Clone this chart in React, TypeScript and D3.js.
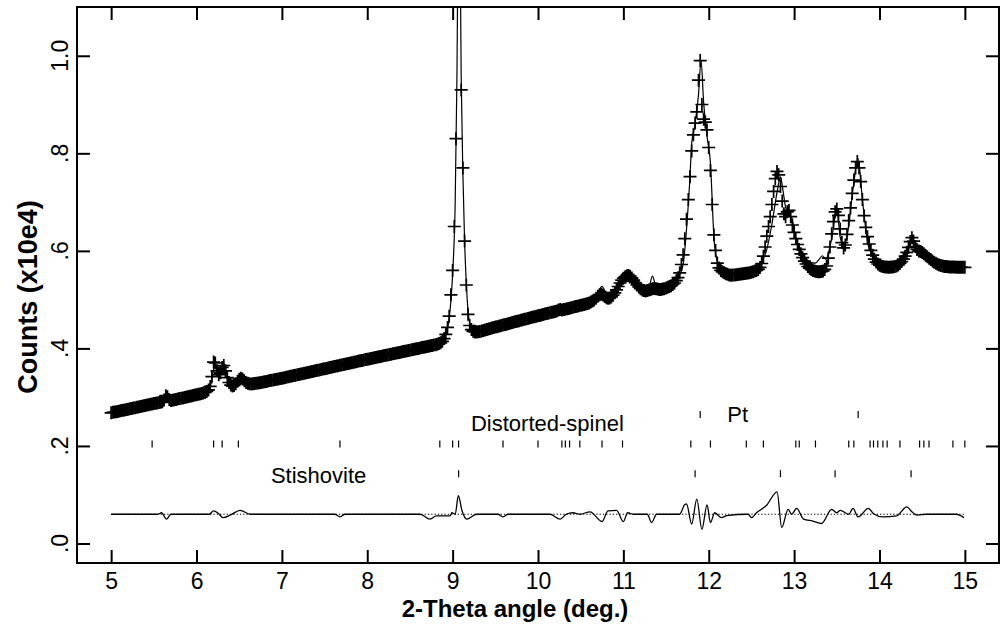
import { useRef, useEffect } from 'react'
import * as d3 from 'd3'

// observed counts, 2-theta 5.00 .. 15.00 deg, one reading every 0.02 deg
const obsStart = 5.0
const obsStep = 0.02
const obsCounts = [
	// 5.00
	2680, 2689, 2694, 2703, 2709, 2718, 2724, 2733, 2739, 2748,
	2754, 2763, 2769, 2778, 2784, 2793, 2799, 2808, 2814, 2823,
	2829, 2838, 2844, 2853, 2859, 2868, 2874, 2883, 2888, 2895,
	2905, 2945, 3030, 3010, 2950, 2930, 2938, 2946, 2954, 2962,
	2970, 2978, 2986, 2994, 3002, 3010, 3018, 3026, 3034, 3042,
	// 6.00
	3050, 3058, 3066, 3075, 3085, 3098, 3118, 3150, 3220, 3420,
	3720, 3700, 3540, 3460, 3500, 3610, 3650, 3540, 3400, 3300,
	3248, 3228, 3240, 3275, 3325, 3368, 3390, 3372, 3335, 3302,
	3286, 3276, 3273, 3275, 3279, 3284, 3290, 3297, 3303, 3310,
	3318, 3324, 3331, 3339, 3345, 3352, 3360, 3366, 3373, 3381,
	// 7.00
	3388, 3396, 3403, 3411, 3419, 3427, 3434, 3443, 3450, 3458,
	3466, 3473, 3482, 3489, 3497, 3505, 3512, 3521, 3528, 3536,
	3544, 3551, 3560, 3567, 3575, 3583, 3590, 3599, 3606, 3614,
	3622, 3629, 3638, 3645, 3653, 3661, 3668, 3677, 3684, 3692,
	3700, 3707, 3716, 3723, 3731, 3739, 3746, 3755, 3762, 3770,
	// 8.00
	3778, 3785, 3793, 3800, 3808, 3815, 3822, 3830, 3837, 3845,
	3852, 3860, 3867, 3874, 3882, 3889, 3897, 3904, 3912, 3919,
	3926, 3934, 3941, 3949, 3956, 3964, 3971, 3978, 3986, 3993,
	4001, 4008, 4016, 4023, 4030, 4038, 4045, 4053, 4060, 4068,
	4076, 4085, 4098, 4115, 4145, 4200, 4290, 4430, 4660, 5100,
	// 9.00
	5600, 6500, 8300, 12000, 13500, 9300, 7700, 6200, 5300, 4700,
	4470, 4385, 4350, 4338, 4336, 4340, 4349, 4358, 4368, 4378,
	4388, 4397, 4406, 4416, 4426, 4436, 4445, 4455, 4465, 4474,
	4483, 4492, 4502, 4512, 4521, 4530, 4540, 4549, 4558, 4568,
	4577, 4587, 4596, 4605, 4614, 4623, 4632, 4641, 4650, 4659,
	// 10.00
	4668, 4677, 4686, 4695, 4704, 4713, 4722, 4731, 4740, 4749,
	4758, 4768, 4785, 4795, 4790, 4795, 4803, 4812, 4821, 4830,
	4839, 4848, 4857, 4866, 4875, 4884, 4893, 4902, 4912, 4922,
	4934, 4950, 4970, 4995, 5030, 5070, 5100, 5110, 5095, 5065,
	5040, 5030, 5035, 5055, 5090, 5140, 5200, 5270, 5340, 5400,
	// 11.00
	5440, 5470, 5490, 5495, 5480, 5445, 5400, 5350, 5300, 5260,
	5225, 5200, 5185, 5180, 5185, 5195, 5210, 5225, 5230, 5225,
	5215, 5210, 5210, 5215, 5225, 5238, 5252, 5268, 5285, 5310,
	5340, 5390, 5450, 5550, 5720, 5920, 6250, 6650, 7050, 7520,
	8050, 8380, 8620, 8850, 9500, 9900, 9000, 8700, 8640, 8480,
	// 12.00
	8120, 7650, 6950, 6330, 6010, 5750, 5650, 5600, 5570, 5550,
	5530, 5520, 5505, 5500, 5503, 5508, 5512, 5518, 5522, 5527,
	5532, 5536, 5540, 5545, 5550, 5560, 5570, 5585, 5600, 5620,
	5660, 5740, 5890, 6080, 6300, 6500, 6700, 6950, 7220, 7480,
	7630, 7560, 7320, 7020, 6760, 6700, 6800, 6830, 6700, 6530,
	// 13.00
	6380, 6250, 6130, 6030, 5940, 5860, 5790, 5730, 5680, 5645,
	5620, 5600, 5585, 5575, 5570, 5570, 5575, 5590, 5620, 5690,
	5850, 6080, 6350, 6600, 6800, 6860, 6730, 6450, 6170, 6060,
	6120, 6340, 6620, 6880, 7180, 7450, 7700, 7830, 7700, 7420,
	7050, 6720, 6480, 6290, 6140, 6010, 5910, 5830, 5770, 5730,
	// 14.00
	5705, 5690, 5680, 5672, 5668, 5665, 5665, 5667, 5670, 5678,
	5690, 5710, 5740, 5780, 5830, 5890, 5970, 6070, 6190, 6270,
	6200, 6090, 6030, 6000, 5985, 5965, 5940, 5910, 5880, 5850,
	5820, 5790, 5765, 5745, 5725, 5710, 5700, 5690, 5682, 5677,
	5673, 5670, 5668, 5667, 5666, 5665, 5665, 5664, 5664, 5663,
	// 15.00
	5663,
]

// calculated profile [2-theta, counts x10e4]
const calcProfile = [
	[5.0, 0.268], [5.6, 0.29], [5.62, 0.293], [5.64, 0.301], [5.66, 0.303], [5.68, 0.296],
	[5.7, 0.293], [6.0, 0.305], [6.1, 0.31], [6.14, 0.316], [6.16, 0.322], [6.18, 0.336],
	[6.2, 0.357], [6.22, 0.368], [6.24, 0.356], [6.26, 0.348], [6.28, 0.351], [6.3, 0.362],
	[6.32, 0.37], [6.34, 0.36], [6.36, 0.343], [6.4, 0.325], [6.42, 0.323], [6.46, 0.325],
	[6.5, 0.333], [6.52, 0.333], [6.55, 0.334], [6.6, 0.329], [6.66, 0.327], [7.0, 0.339],
	[7.64, 0.364], [7.69, 0.372], [7.74, 0.367], [8.0, 0.378], [8.5, 0.396], [8.68, 0.403],
	[8.74, 0.416], [8.8, 0.408], [8.86, 0.411], [8.92, 0.428], [8.96, 0.462], [9.0, 0.553],
	[9.03, 0.7], [9.05, 0.95], [9.075, 1.45], [9.1, 0.96], [9.12, 0.76], [9.14, 0.62],
	[9.16, 0.535], [9.18, 0.478], [9.2, 0.452], [9.24, 0.436], [9.3, 0.434], [9.56, 0.447],
	[9.6, 0.454], [9.66, 0.45], [10.0, 0.467], [10.2, 0.476], [10.26, 0.49], [10.32, 0.481],
	[10.56, 0.491], [10.64, 0.5], [10.7, 0.515], [10.75, 0.527], [10.8, 0.511], [10.86, 0.502],
	[10.92, 0.512], [11.0, 0.555], [11.06, 0.551], [11.12, 0.54], [11.2, 0.522], [11.26, 0.519],
	[11.3, 0.525], [11.34, 0.548], [11.38, 0.528], [11.44, 0.521], [11.56, 0.528], [11.64, 0.544],
	[11.7, 0.572], [11.74, 0.645], [11.78, 0.75], [11.8, 0.82], [11.84, 0.86], [11.88, 0.92],
	[11.91, 0.99], [11.94, 0.905], [11.98, 0.835], [12.02, 0.78], [12.06, 0.63], [12.1, 0.578],
	[12.14, 0.565], [12.2, 0.556], [12.3, 0.551], [12.46, 0.555], [12.5, 0.563], [12.56, 0.568],
	[12.62, 0.578], [12.68, 0.603], [12.74, 0.655], [12.8, 0.72], [12.84, 0.752], [12.86, 0.735],
	[12.9, 0.69], [12.93, 0.675], [12.97, 0.668], [13.03, 0.618], [13.08, 0.6], [13.12, 0.588],
	[13.2, 0.576], [13.25, 0.575], [13.29, 0.582], [13.33, 0.59], [13.37, 0.583], [13.44, 0.625],
	[13.5, 0.683], [13.54, 0.628], [13.58, 0.61], [13.63, 0.64], [13.69, 0.727], [13.75, 0.789],
	[13.8, 0.705], [13.87, 0.61], [13.93, 0.59], [14.04, 0.573], [14.2, 0.573], [14.32, 0.59],
	[14.38, 0.624], [14.43, 0.606], [14.55, 0.589], [14.7, 0.57], [15.0, 0.566],
]

// obs - calc, plotted about a fixed offset
const diffOffset = 0.06
const diffProfile = [
	[5.0, 0], [5.55, 0], [5.59, 0.003], [5.65, -0.01], [5.7, 0], [6.15, 0], [6.2, 0.007],
	[6.26, 0.001], [6.31, -0.007], [6.4, -0.0015], [6.51, 0.008], [6.63, 0], [7.62, 0],
	[7.68, -0.0055], [7.74, 0], [8.62, 0], [8.735, -0.01], [8.81, -0.0035], [8.97, -0.0035],
	[8.99, 0.003], [9.03, 0], [9.067, 0.038], [9.11, 0.007], [9.165, -0.01], [9.28, 0],
	[9.53, 0], [9.59, -0.0055], [9.65, 0], [10.14, 0], [10.26, -0.01], [10.33, 0],
	[10.41, 0.003], [10.49, 0], [10.61, 0.005], [10.75, -0.015], [10.82, 0.007], [10.92, 0.008],
	[11.0, -0.015], [11.05, 0.003], [11.12, 0], [11.28, 0], [11.33, -0.017], [11.39, 0],
	[11.66, 0], [11.72, 0.02], [11.74, 0.021], [11.8, -0.02], [11.86, 0.031], [11.92, -0.031],
	[11.98, 0.019], [12.02, -0.017], [12.07, 0.003], [12.15, -0.007], [12.21, -0.003],
	[12.46, 0], [12.5, -0.007], [12.56, 0.003], [12.68, 0.019], [12.8, 0.046], [12.855, -0.027],
	[12.93, 0.01], [12.97, 0], [13.03, 0.012], [13.11, -0.01], [13.22, -0.014], [13.32, -0.019],
	[13.44, 0.01], [13.5, 0.003], [13.54, 0.008], [13.64, 0], [13.69, 0.012], [13.75, -0.0055],
	[13.87, 0.012], [13.93, 0.001], [14.04, -0.0055], [14.2, -0.0035], [14.32, 0.015],
	[14.38, 0.005], [14.44, -0.002], [14.55, 0], [14.9, 0], [14.99, -0.007],
]

// reflection positions (2-theta) of each phase
const spinelPeaks = [
	5.48, 6.2, 6.3, 6.49, 7.68, 8.85, 9.0, 9.07, 9.59, 10.0, 10.28, 10.32, 10.37, 10.49,
	10.75, 10.99, 11.79, 12.02, 12.44, 12.64, 13.02, 13.06, 13.25, 13.64, 13.7, 13.89,
	13.93, 13.98, 14.04, 14.09, 14.24, 14.47, 14.52, 14.58, 14.86, 15.0,
]
const ptPeaks = [11.9, 13.75]
const stishovitePeaks = [9.07, 11.84, 12.84, 13.48, 14.37]

const xTicks = [5, 6, 7, 8, 9, 10, 11, 12, 13, 14, 15]
const yTicks = [0, 0.2, 0.4, 0.6, 0.8, 1.0]
const yTickLabels = ['.0', '.2', '.4', '.6', '.8', '1.0']

const FONT = '"Liberation Sans", Arial, Helvetica, sans-serif'

export default function App() {
	const ref = useRef<SVGSVGElement>(null)

	useEffect(() => {
		const svg = d3.select(ref.current)
		svg.selectAll('*').remove()

		const frame = { left: 77, right: 999, top: 7, bottom: 563 }
		const x = d3.scaleLinear().domain([4.6, 15.4]).range([frame.left, frame.right])
		const y = d3.scaleLinear().domain([-0.04, 1.1]).range([frame.bottom, frame.top])

		svg
			.append('defs')
			.append('clipPath')
			.attr('id', 'plotClip')
			.append('rect')
			.attr('x', frame.left)
			.attr('y', frame.top)
			.attr('width', frame.right - frame.left)
			.attr('height', frame.bottom - frame.top)

		const plot = svg.append('g').attr('clip-path', 'url(#plotClip)')

		// observed points as "+" markers
		const obs = obsCounts.map((c, i) => ({ t: obsStart + i * obsStep, v: c / 1e4 }))
		const arm = 6.5
		const plusPath = obs
			.map((d) => {
				const px = x(d.t)
				const py = y(d.v)
				return `M${(px - arm).toFixed(1)},${py.toFixed(1)}h${2 * arm}M${px.toFixed(1)},${(py - arm).toFixed(1)}v${2 * arm}`
			})
			.join('')
		plot
			.append('path')
			.attr('d', plusPath)
			.attr('fill', 'none')
			.attr('stroke', '#000')
			.attr('stroke-width', 1.7)

		const line = d3
			.line<number[]>()
			.x((d) => x(d[0]))
			.y((d) => y(d[1]))
			.curve(d3.curveMonotoneX)

		plot
			.append('path')
			.datum(calcProfile)
			.attr('d', line)
			.attr('fill', 'none')
			.attr('stroke', '#000')
			.attr('stroke-width', 1.2)

		// difference curve with dotted zero line
		plot
			.append('line')
			.attr('x1', x(5))
			.attr('x2', x(15))
			.attr('y1', y(diffOffset))
			.attr('y2', y(diffOffset))
			.attr('stroke', '#000')
			.attr('stroke-width', 1)
			.attr('stroke-dasharray', '1.3,2')

		const diffLine = d3
			.line<number[]>()
			.x((d) => x(d[0]))
			.y((d) => y(d[1] + diffOffset))
			.curve(d3.curveMonotoneX)
		plot
			.append('path')
			.datum(diffProfile)
			.attr('d', diffLine)
			.attr('fill', 'none')
			.attr('stroke', '#000')
			.attr('stroke-width', 1.3)

		// phase reflection markers
		const rows = [
			{ peaks: ptPeaks, level: 0.2646 },
			{ peaks: spinelPeaks, level: 0.2041 },
			{ peaks: stishovitePeaks, level: 0.1432 },
		]
		rows.forEach((row) => {
			svg
				.append('g')
				.selectAll('line')
				.data(row.peaks)
				.join('line')
				.attr('x1', (d) => x(d))
				.attr('x2', (d) => x(d))
				.attr('y1', y(row.level) - 3.5)
				.attr('y2', y(row.level) + 3.5)
				.attr('stroke', '#000')
				.attr('stroke-width', 1.2)
		})

		const phaseLabels = [
			{ text: 'Distorted-spinel', t: 10.11, v: 0.2297 },
			{ text: 'Pt', t: 12.34, v: 0.25 },
			{ text: 'Stishovite', t: 7.43, v: 0.124 },
		]
		svg
			.append('g')
			.selectAll('text')
			.data(phaseLabels)
			.join('text')
			.attr('x', (d) => x(d.t))
			.attr('y', (d) => y(d.v))
			.attr('text-anchor', 'middle')
			.attr('font-family', FONT)
			.attr('font-size', 22)
			.text((d) => d.text)

		// frame and inward ticks on all four sides
		svg
			.append('rect')
			.attr('x', frame.left)
			.attr('y', frame.top)
			.attr('width', frame.right - frame.left)
			.attr('height', frame.bottom - frame.top)
			.attr('fill', 'none')
			.attr('stroke', '#000')
			.attr('stroke-width', 2)

		const styleAxis = (g: any) => {
			g.select('.domain').remove()
			g.selectAll('.tick line').attr('stroke-width', 2)
			g.attr('font-family', FONT).attr('font-size', 23)
			g.selectAll('.tick text').attr('fill', '#000')
		}

		svg
			.append('g')
			.attr('transform', `translate(0,${frame.bottom})`)
			.call(d3.axisBottom(x).tickValues(xTicks).tickSize(-13).tickPadding(10).tickFormat(d3.format('d')))
			.call(styleAxis)
		svg
			.append('g')
			.attr('transform', `translate(0,${frame.top})`)
			.call(d3.axisTop(x).tickValues(xTicks).tickSize(-13).tickFormat(() => ''))
			.call(styleAxis)
		svg
			.append('g')
			.attr('transform', `translate(${frame.left},0)`)
			.call(d3.axisLeft(y).tickValues(yTicks).tickSize(-13).tickFormat(() => ''))
			.call(styleAxis)
		svg
			.append('g')
			.attr('transform', `translate(${frame.right},0)`)
			.call(d3.axisRight(y).tickValues(yTicks).tickSize(-13).tickFormat(() => ''))
			.call(styleAxis)

		// rotated y tick labels
		svg
			.append('g')
			.selectAll('text')
			.data(yTicks)
			.join('text')
			.attr('transform', (d) => `translate(68,${y(d)}) rotate(-90)`)
			.attr('text-anchor', 'middle')
			.attr('font-family', FONT)
			.attr('font-size', 23)
			.text((d, i) => yTickLabels[i])

		svg
			.append('text')
			.attr('transform', 'translate(37,297) rotate(-90)')
			.attr('text-anchor', 'middle')
			.attr('font-family', FONT)
			.attr('font-weight', 'bold')
			.attr('font-size', 27)
			.text('Counts (x10e4)')

		svg
			.append('text')
			.attr('x', 515)
			.attr('y', 617)
			.attr('text-anchor', 'middle')
			.attr('font-family', FONT)
			.attr('font-weight', 'bold')
			.attr('font-size', 24)
			.text('2-Theta angle (deg.)')
	}, [])

	return (
		<svg
			ref={ref}
			width={1004}
			height={631}
			style={{ position: 'absolute', left: 0, top: 0, background: '#fff' }}
		></svg>
	)
}
